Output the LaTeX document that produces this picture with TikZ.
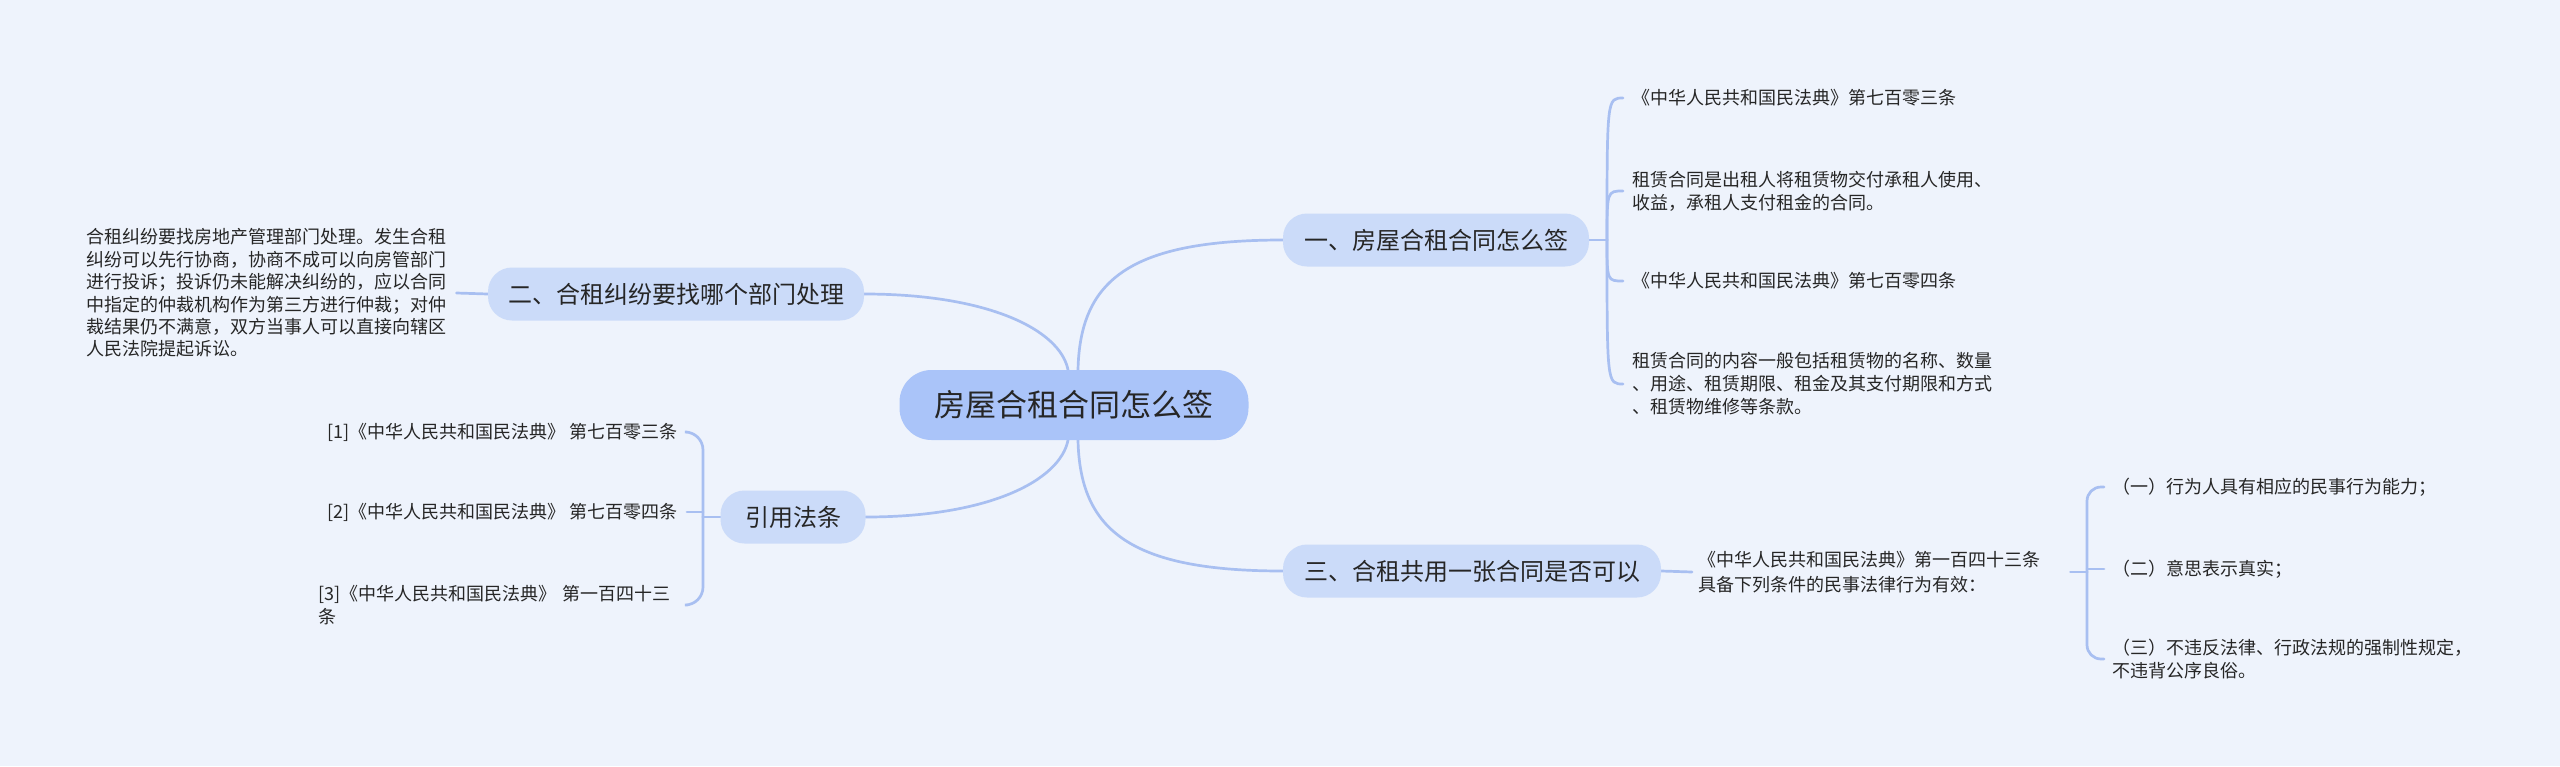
\documentclass[tikz,border=0pt]{standalone}
\usepackage{fontspec}
\setmainfont{Noto Sans CJK SC}
\usetikzlibrary{calc}
\definecolor{bgc}{HTML}{EEF3FC}
\definecolor{rootc}{HTML}{AAC4F9}
\definecolor{nodec}{HTML}{CBDBF9}
\definecolor{linec}{HTML}{A8BFF1}
\definecolor{txtc}{HTML}{262626}
\pgfdeclarelayer{back}
\pgfdeclarelayer{lines}
\pgfsetlayers{back,lines,main}
\begin{document}
\begin{tikzpicture}[x=1pt,y=-1pt,
  conn/.style={draw=linec, line width=2.7pt, line cap=round},
  rootnode/.style={fill=rootc, rounded corners=32pt, minimum width=349pt, minimum height=70pt, inner sep=0pt, text=txtc, font=\fontsize{31}{36}\selectfont},
  topic/.style={fill=nodec, rounded corners=24pt, minimum height=53pt, inner sep=0pt, text=txtc, font=\fontsize{24}{28}\selectfont},
  leaf/.style={inner sep=0pt, text=txtc, align=left, font=\fontsize{18}{23}\selectfont}]
\useasboundingbox (0,0) rectangle (2560,766);
\begin{pgfonlayer}{back}
\fill[bgc] (0,0) rectangle (2560,766);
\end{pgfonlayer}

% main nodes
\node[rootnode] (root) at (1074,405) {房屋合租合同怎么签};
\node[topic, minimum width=306pt] (n1) at (1436,240) {一、房屋合租合同怎么签};
\node[topic, minimum width=376pt] (n2) at (676,294) {二、合租纠纷要找哪个部门处理};
\node[topic, minimum width=145pt] (n3) at (793,517) {引用法条};
\node[topic, minimum width=378pt] (n4) at (1472,571) {三、合租共用一张合同是否可以};

% leaves of n1
\node[leaf, anchor=west] (c1) at (1632,98) {《中华人民共和国民法典》第七百零三条};
\node[leaf, anchor=west] (c2) at (1632,191) {租赁合同是出租人将租赁物交付承租人使用、\\收益，承租人支付租金的合同。};
\node[leaf, anchor=west] (c3) at (1632,281) {《中华人民共和国民法典》第七百零四条};
\node[leaf, anchor=west] (c4) at (1632,384) {租赁合同的内容一般包括租赁物的名称、数量\\、用途、租赁期限、租金及其支付期限和方式\\、租赁物维修等条款。};

% leaf of n2
\node[leaf, anchor=west, font=\fontsize{18}{22.4}\selectfont] (p2) at (86,293) {合租纠纷要找房地产管理部门处理。发生合租\\纠纷可以先行协商，协商不成可以向房管部门\\进行投诉；投诉仍未能解决纠纷的，应以合同\\中指定的仲裁机构作为第三方进行仲裁；对仲\\裁结果仍不满意，双方当事人可以直接向辖区\\人民法院提起诉讼。};

% leaves of n3
\node[leaf, anchor=east] (l1) at (678,432) {[1]《中华人民共和国民法典》 第七百零三条};
\node[leaf, anchor=east] (l2) at (678,512) {[2]《中华人民共和国民法典》 第七百零四条};
\node[leaf, anchor=west, text width=360pt] (l3) at (318,605) {[3]《中华人民共和国民法典》 第一百四十三\\条};

% leaves of n4
\node[leaf, anchor=west, text width=372pt, font=\fontsize{18}{25}\selectfont] (m1) at (1698,572) {《中华人民共和国民法典》第一百四十三条\\具备下列条件的民事法律行为有效：};
\node[leaf, anchor=west] (d1) at (2112,487) {（一）行为人具有相应的民事行为能力；};
\node[leaf, anchor=west] (d2) at (2112,569) {（二）意思表示真实；};
\node[leaf, anchor=west, text width=370pt] (d3) at (2112,659) {（三）不违反法律、行政法规的强制性规定，\\不违背公序良俗。};

\coordinate (b1) at (1607,240);
\coordinate (b2) at (703,517);
\coordinate (b3) at (2087,572);

\begin{pgfonlayer}{lines}
% root connectors
\draw[conn] (n2.east) .. controls +(124,0) and +(-8,-40) .. ($(root.north)+(-6,0)$);
\draw[conn] ($(root.north)+(4,0)$) .. controls +(2,-90) and +(-153,0) .. (n1.west);
\draw[conn] (n3.east) .. controls +(124,0) and +(-8,40) .. ($(root.south)+(-6,0)$);
\draw[conn] ($(root.south)+(4,0)$) .. controls +(2,90) and +(-153,0) .. (n4.west);

% group n1
\draw[conn] (n1.east) -- (b1);
\foreach \c in {c1,c2,c3,c4}
  \draw[conn] (b1) .. controls (b1 |- \c.west) .. ([xshift=-9pt]\c.west);

% group n2
\draw[conn] ([xshift=10pt]p2.east) -- (n2.west);

% group n3
\draw[conn] (n3.west) -- (b2);
\draw[conn, rounded corners=18pt] (b2) |- ([xshift=9pt]l1.east);
\draw[conn] (b2 |- l2.east) -- ([xshift=9pt]l2.east);
\draw[conn, rounded corners=18pt] (b2) |- ([xshift=9pt]l3.east);

% group n4
\draw[conn] (n4.east) -- ([xshift=-6pt]m1.west);
\draw[conn] (m1.east) -- (b3);
\draw[conn, rounded corners=14pt] (b3) |- ([xshift=-8pt]d1.west);
\draw[conn] (b3 |- d2.west) -- ([xshift=-8pt]d2.west);
\draw[conn, rounded corners=14pt] (b3) |- ([xshift=-8pt]d3.west);
\end{pgfonlayer}
\end{tikzpicture}
\end{document}
